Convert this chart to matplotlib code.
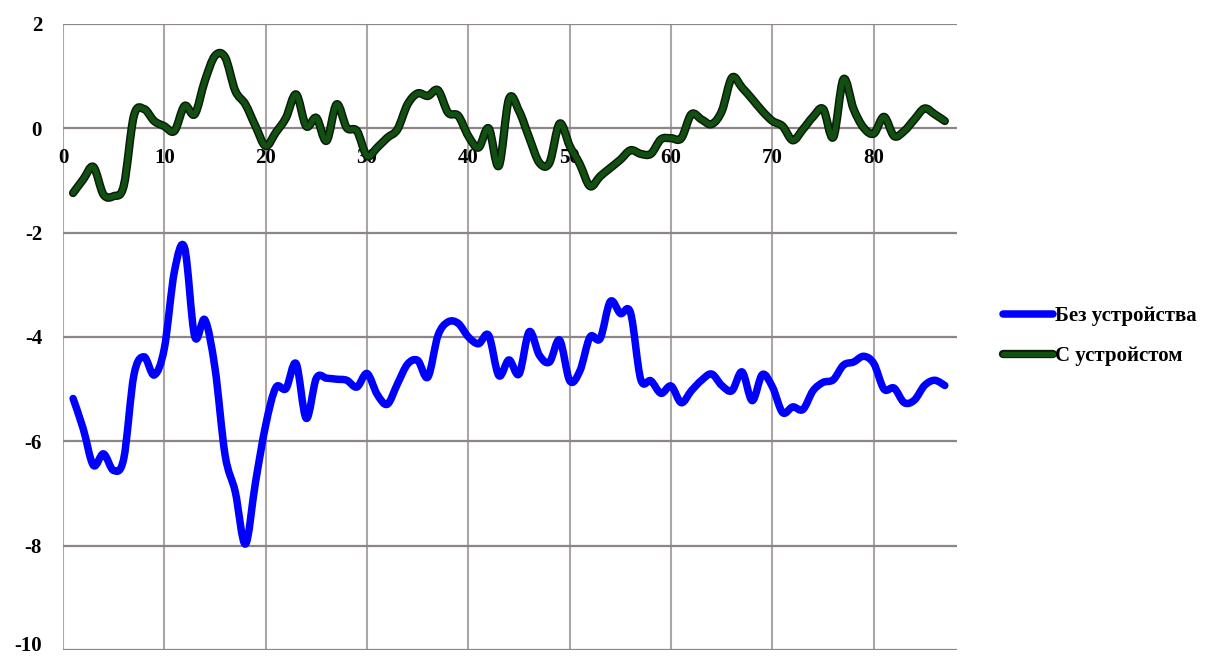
import numpy as np
import matplotlib
matplotlib.use("Agg")
import matplotlib.pyplot as plt
import matplotlib.patheffects as pe
import matplotlib.transforms as mtransforms
from matplotlib.path import Path
from matplotlib.patches import PathPatch
from matplotlib.lines import Line2D

# measurement index
x_vals = list(range(1, 88))

# "Без устройства"
without_device = [
    -5.18, -5.76, -6.46, -6.24, -6.56, -6.33, -4.73, -4.38, -4.73, -4.22,
    -2.74, -2.29, -3.99, -3.67, -4.60, -6.27, -6.97, -7.97, -6.78, -5.69,
    -4.97, -4.99, -4.51, -5.56, -4.79, -4.79, -4.81, -4.83, -4.96, -4.70,
    -5.10, -5.29, -4.90, -4.52, -4.45, -4.77, -3.97, -3.71, -3.74, -4.00,
    -4.13, -3.97, -4.74, -4.44, -4.71, -3.90, -4.35, -4.48, -4.06, -4.84,
    -4.65, -4.00, -4.03, -3.32, -3.55, -3.54, -4.81, -4.84, -5.08, -4.94,
    -5.26, -5.03, -4.83, -4.71, -4.93, -5.03, -4.67, -5.22, -4.72, -4.96,
    -5.45, -5.34, -5.39, -5.03, -4.87, -4.82, -4.54, -4.48, -4.37, -4.51,
    -5.00, -4.98, -5.26, -5.21, -4.93, -4.83, -4.93,
]

# "С устройстом"
with_device = [
    -1.24, -0.98, -0.74, -1.27, -1.30, -1.10, 0.24, 0.37, 0.14, 0.04,
    -0.05, 0.43, 0.27, 0.91, 1.39, 1.36, 0.72, 0.46, 0.04, -0.34,
    -0.08, 0.20, 0.65, 0.04, 0.20, -0.24, 0.46, 0.01, -0.05, -0.53,
    -0.37, -0.18, -0.02, 0.46, 0.67, 0.62, 0.73, 0.30, 0.24, -0.15,
    -0.37, 0.00, -0.72, 0.56, 0.33, -0.18, -0.66, -0.66, 0.09, -0.34,
    -0.69, -1.11, -0.92, -0.76, -0.60, -0.42, -0.49, -0.49, -0.21, -0.19,
    -0.19, 0.27, 0.17, 0.08, 0.33, 0.97, 0.78, 0.56, 0.33, 0.14,
    0.04, -0.23, -0.02, 0.22, 0.37, -0.17, 0.94, 0.37, 0.01, -0.10,
    0.22, -0.15, -0.05, 0.17, 0.38, 0.27, 0.14,
]

x_ticks = [0, 10, 20, 30, 40, 50, 60, 70, 80]
y_ticks = [-10, -8, -6, -4, -2, 0, 2]
labels = ["Без устройства", "С устройстом"]


def smooth_path(x, y):
    # Catmull-Rom segments written as cubic Bezier curves
    p = np.column_stack([x, y]).astype(float)
    ext = np.vstack([p[0], p, p[-1]])
    verts = [p[0]]
    codes = [Path.MOVETO]
    for i in range(1, len(ext) - 2):
        p0, p1, p2, p3 = ext[i - 1], ext[i], ext[i + 1], ext[i + 2]
        verts += [p1 + (p2 - p0) / 6, p2 - (p3 - p1) / 6, p2]
        codes += [Path.CURVE4] * 3
    return Path(verts, codes)


plt.rcParams["font.family"] = ["Liberation Serif", "DejaVu Serif"]
plt.rcParams["font.weight"] = "bold"
plt.rcParams["axes.unicode_minus"] = False

fig = plt.figure(figsize=(12.06, 6.57), dpi=100)
ax = fig.add_axes([0.0522, 0.0107, 0.7413, 0.9528])

ax.set_xlim(0, 88.2)
ax.set_ylim(-10, 2)
ax.set_xticks(x_ticks)
ax.set_yticks(y_ticks)

ax.grid(True, axis="x", color="#aba5a5", linewidth=1.5)
ax.grid(True, axis="y", color="#8e8585", linewidth=1.6)
ax.set_axisbelow(True)
for s in ax.spines.values():
    s.set_visible(False)
ax.spines["bottom"].set_position(("data", 0))

ax.tick_params(axis="x", length=0, pad=14, labelsize=15)
ax.tick_params(axis="y", length=0, pad=15, labelsize=15)

# keep the lowest y label inside the figure
bottom_label = ax.get_yticklabels()[0]
bottom_label.set_transform(bottom_label.get_transform() +
                           mtransforms.ScaledTranslation(0, 6 / 100, fig.dpi_scale_trans))

blue = "#0000ff"
green = "#125012"

ax.add_patch(PathPatch(smooth_path(x_vals, without_device), fill=False,
                       edgecolor=blue, linewidth=5.4, capstyle="round",
                       joinstyle="round", zorder=3))
green_fx = [pe.Stroke(linewidth=6.0, foreground="#0a1c0a"), pe.Normal()]
ax.add_patch(PathPatch(smooth_path(x_vals, with_device), fill=False,
                       edgecolor=green, linewidth=3.8, capstyle="round",
                       joinstyle="round", zorder=3, path_effects=green_fx))

handles = [
    Line2D([], [], color=blue, linewidth=5.4, solid_capstyle="round"),
    Line2D([], [], color=green, linewidth=3.8, solid_capstyle="round",
           path_effects=green_fx),
]
fig.legend(handles, labels, loc="center left", bbox_to_anchor=(0.832, 0.488),
           frameon=False, fontsize=15, handlelength=2.4, handletextpad=0.1,
           labelspacing=0.95, borderpad=0, borderaxespad=0)

fig.savefig("out.png", dpi=100)
